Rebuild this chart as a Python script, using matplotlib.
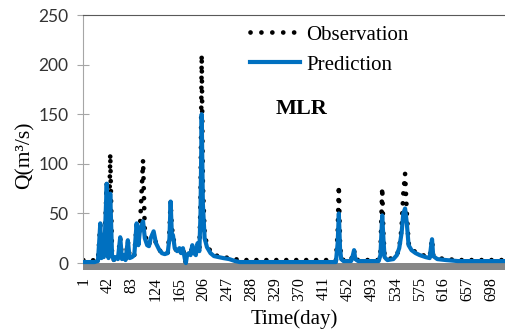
# Observed vs MLR-predicted streamflow

import matplotlib
matplotlib.use('Agg')
import matplotlib.pyplot as plt
from matplotlib.lines import Line2D

days = [1, 10, 20, 26, 28, 30, 32, 34, 36, 38, 41, 44, 47, 50, 53, 56, 60, 64, 67, 70,
        73, 77, 80, 84, 88, 92, 95, 98, 103, 106, 110, 113, 116, 121, 125, 130, 135, 140,
        145, 148, 150, 152, 154, 157, 161, 165, 168, 171, 174, 176, 178, 181, 184, 187,
        190, 193, 196, 199, 201, 203, 205, 208, 212, 218, 224, 232, 240, 250, 260, 268,
        300, 350, 400, 432, 435, 437, 439, 441, 445, 458, 461, 463, 465, 470, 505, 508,
        511, 513, 515, 518, 520, 530, 536, 540, 544, 547, 550, 553, 556, 561, 568, 575,
        585, 592, 594, 596, 598, 605, 620, 640, 660, 700, 720]
obs = [3, 2, 3, 3, 20, 38, 6, 25, 8, 30, 80, 8, 110, 8, 3, 8, 5, 25, 5, 10,
       4, 22, 6, 6, 8, 38, 20, 40, 104, 30, 20, 18, 25, 30, 20, 14, 10, 9,
       10, 30, 62, 35, 30, 15, 12, 15, 10, 15, 5, 0, 8, 10, 8, 18,
       10, 8, 20, 12, 60, 210, 80, 30, 18, 12, 8, 7, 6, 5, 4, 3,
       3, 3, 3, 3, 30, 78, 20, 5, 3, 3, 10, 13, 4, 3, 3, 10,
       76, 30, 8, 5, 4, 5, 8, 15, 35, 70, 90, 50, 20, 14, 11, 9,
       7, 6, 15, 24, 8, 5, 4, 3, 3, 3, 3]
pred = [1, 1, 1, 2, 20, 40, 5, 28, 6, 30, 80, 5, 70, 8, 3, 6, 4, 26, 4, 8,
        3, 23, 5, 6, 8, 40, 18, 35, 42, 25, 18, 17, 25, 32, 20, 14, 10, 9,
        10, 25, 62, 30, 28, 15, 12, 15, 10, 15, 5, 0, 8, 10, 8, 18,
        10, 8, 20, 12, 50, 150, 60, 25, 16, 10, 7, 6, 5, 4, 2, 1,
        1, 1, 1, 1, 20, 50, 15, 4, 2, 2, 8, 13, 4, 2, 2, 8,
        48, 25, 6, 4, 3, 4, 8, 15, 30, 50, 55, 40, 18, 13, 10, 8,
        6, 5, 15, 24, 7, 4, 3, 2, 2, 2, 2]

xticks = list(range(1, 699, 41))
yticks = [0, 50, 100, 150, 200, 250]

serif = 'Liberation Serif'

fig = plt.figure(figsize=(5.05, 3.34), dpi=100)
ax = fig.add_axes([83 / 505, 1 - 270 / 334, 422 / 505, 255 / 334])

ax.axhspan(-7, 0, color='#878787', lw=0, zorder=1)
ax.plot(days, obs, color='black', lw=3.4, linestyle=(0, (0.01, 2.1)),
        dash_capstyle='round', zorder=2)
ax.plot(days, pred, color='#0070C0', lw=3.0, zorder=3)

ax.set_xlim(0.5, 720.5)
ax.set_ylim(-7, 250)
ax.set_xticks(xticks)
ax.set_xticklabels([str(t) for t in xticks], rotation=90, fontsize=11.5, family=serif)
ax.tick_params(axis='x', length=0, pad=5)
ax.set_yticks(yticks)
ax.set_yticklabels([str(t) for t in yticks], fontsize=12.5, family='Lato', color='#333333')
ax.tick_params(axis='y', length=9, direction='inout', color='#a6a6a6', width=0.8, pad=6)

ax.spines['right'].set_visible(False)
ax.spines['bottom'].set_visible(False)
ax.spines['left'].set_bounds(0, 250)
ax.spines['left'].set_color('#a6a6a6')
ax.spines['top'].set_color('#595959')

ax.set_ylabel('Q(m³/s)', fontsize=15.5, family=serif)
ax.yaxis.set_label_coords(-0.115, 0.45)
ax.set_xlabel('Time(day)', fontsize=15, family=serif)
ax.xaxis.set_label_coords(0.5, -0.155)

handles = [Line2D([], [], color='black', lw=3.4, linestyle=(0, (0.01, 2.3)),
                  dash_capstyle='round'),
           Line2D([], [], color='#0070C0', lw=3.0)]
ax.legend(handles, ['Observation', 'Prediction'], loc='upper left',
          bbox_to_anchor=(250 / 505, 1 - 25 / 334), bbox_transform=fig.transFigure,
          frameon=False, prop={'family': serif, 'size': 15}, handlelength=2.4,
          handletextpad=0.3, labelspacing=0.5, borderpad=0, borderaxespad=0)

fig.text(302 / 505, 1 - 109 / 334, 'MLR', ha='center', va='center',
         fontsize=16, fontweight='bold', family=serif)

fig.savefig('out.png', dpi=100)
